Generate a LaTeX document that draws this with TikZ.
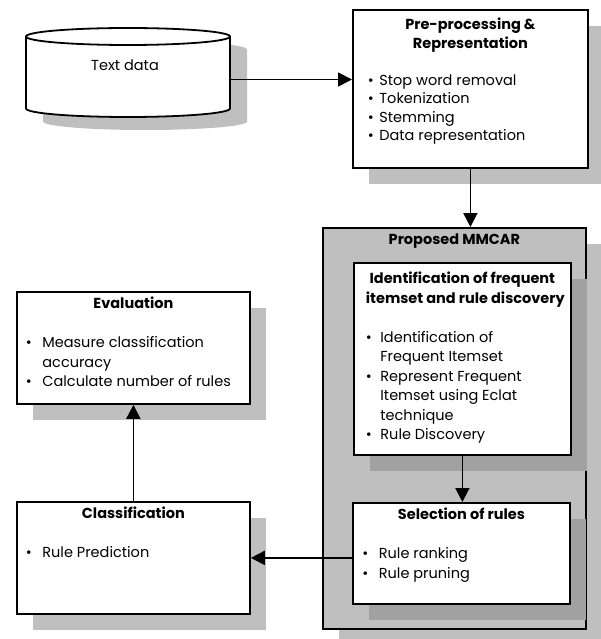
\documentclass[tikz,border=0pt]{standalone}
\usepackage{fontspec}
\setmainfont{Poppins}
\usetikzlibrary{shapes.geometric, arrows.meta, positioning, shadows}

\definecolor{shadegray}{gray}{0.75}
\definecolor{darkshade}{gray}{0.63}

\newlength{\bhang}
\setlength{\bhang}{12pt}
\newcommand{\bitem}[1]{\par\hangindent=\bhang\hangafter=1\noindent\makebox[\bhang][l]{\textbullet}#1}
\newcommand{\stage}[4]{\parbox[c][#1][t]{#2}{\centering\textbf{#3}\par\vspace{\baselineskip}\raggedright #4\par}}

\begin{document}
\begin{tikzpicture}[x=1pt, y=-1pt,
        box/.style={rectangle, draw, line width=1.8pt, fill=white, anchor=north west,
            inner xsep=13pt, inner ysep=5pt, font=\fontsize{14.5}{19.5}\selectfont},
        bullethang/.code={\setlength{\bhang}{#1}},
        lightshadow/.style={drop shadow={shadow xshift=16pt, shadow yshift=-16pt, fill=shadegray, opacity=1}},
        darkshadow/.style={drop shadow={shadow xshift=16pt, shadow yshift=-16pt, fill=darkshade, opacity=1}},
        arrow/.style={-{Triangle[length=14pt, width=14pt]}, line width=1.8pt}
    ]
        \useasboundingbox (0,0) rectangle (600,639);

        % Text data (cylinder)
        \fill[shadegray, shift={(17,13)}] (26,36.5) -- (26,108.5)
            .. controls (26,113.2) and (71.7,117) .. (128,117)
            .. controls (184.3,117) and (230,113.2) .. (230,108.5) -- (230,36.5)
            .. controls (230,31.8) and (184.3,28) .. (128,28)
            .. controls (71.7,28) and (26,31.8) .. (26,36.5) -- cycle;
        \draw[line width=1.8pt, fill=white] (26,36.5) -- (26,108.5)
            .. controls (26,113.2) and (71.7,117) .. (128,117)
            .. controls (184.3,117) and (230,113.2) .. (230,108.5) -- (230,36.5);
        \draw[line width=1.8pt, fill=white] (128,36.5) ellipse [x radius=102, y radius=8.5];
        \node[minimum width=204pt, minimum height=89pt, inner sep=0pt] (data) at (128, 72.5) {};
        \node[font=\fontsize{14.5}{19.5}\selectfont] (datatext) at (125, 65) {Text data};

        % Pre-processing
        \node[box, lightshadow, inner xsep=15pt, inner ysep=8pt, bullethang=11.5pt,
            font=\fontsize{14.5}{18.5}\selectfont] (prep) at (352, 9)
            {\stage{142pt}{205pt}{Pre-processing \&\\ Representation}{%
            \bitem{Stop word removal}
            \bitem{Tokenization}
            \bitem{Stemming}
            \bitem{Data representation}}};

        % Proposed MMCAR
        \node[rectangle, draw, line width=1.8pt, fill=shadegray, anchor=north west, lightshadow,
            minimum width=263pt, minimum height=401pt] (mmcar) at (322, 227) {};
        \node[anchor=north, font=\fontsize{14.5}{19.5}\selectfont\bfseries, yshift=-3pt] (mmcartitle) at (mmcar.north) {Proposed MMCAR};

        \node[box, darkshadow, inner xsep=12pt, inner ysep=9pt, bullethang=14.5pt] (ident) at (353, 262)
            {\stage{174pt}{193pt}{\mbox{Identification of frequent}\\ \mbox{itemset and rule discovery}}{%
            \bitem{Identification of\newline Frequent Itemset}
            \bitem{Represent Frequent\newline Itemset using Eclat\newline technique}
            \bitem{Rule Discovery}}};

        \node[box, darkshadow, inner xsep=9.5pt, bullethang=16.5pt] (select) at (352, 502)
            {\stage{91pt}{198pt}{Selection of rules}{%
            \bitem{Rule ranking}
            \bitem{Rule pruning}}};

        % Evaluation and classification
        \node[box, lightshadow, inner xsep=9pt, bullethang=16.5pt] (eval) at (16, 291)
            {\stage{102pt}{215pt}{Evaluation}{%
            \bitem{Measure classification\newline accuracy}
            \bitem{Calculate number of rules}}};

        \node[box, lightshadow, inner xsep=9pt, bullethang=16.5pt] (class) at (16, 501)
            {\stage{102pt}{215pt}{Classification}{%
            \bitem{Rule Prediction}}};

        % Arrows
        \draw[arrow] ([yshift=-7pt]data.east) -- ([yshift=-7pt]data.east -| prep.west);
        \draw[arrow] (prep.south) -- (prep.south |- mmcar.north);
        \draw[arrow] (ident.south) -- (ident.south |- select.north);
        \draw[arrow] (select.west |- class.east) -- (class.east);
        \draw[arrow] (class.north) -- (class.north |- eval.south);
    \end{tikzpicture}
\end{document}
